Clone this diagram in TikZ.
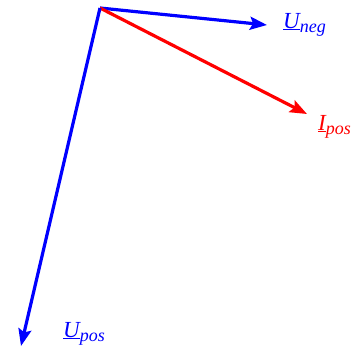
\documentclass[tikz,border=0pt]{standalone}
\usepackage{fontspec}
\setmainfont{Liberation Serif}
\usetikzlibrary{arrows.meta}
\begin{document}
\begin{tikzpicture}[x=1pt,y=-1pt,
  vec/.style={line width=3.2pt,-{Stealth[length=17pt,width=13pt,inset=3pt]}},
  lbl/.style={font=\fontsize{23}{26}\selectfont\itshape,inner sep=0pt,anchor=base west}]
\useasboundingbox (0,0) rectangle (358,349);
\coordinate (o) at (100,8);
\coordinate (uneg) at (267,25);
\coordinate (ipos) at (307,114);
\coordinate (upos) at (21,346);
\draw[vec,blue] (o) -- (uneg);
\draw[vec,red] (o) -- (ipos);
\draw[vec,blue] (o) -- (upos);
\newcommand\sbs[1]{\raisebox{-4pt}{\fontsize{18}{20}\selectfont #1}}
\node[lbl,text=blue] (lneg) at (283,28) {\underline{U}\sbs{neg}};
\node[lbl,text=red] (lipos) at (318,130) {\underline{I}\sbs{pos}};
\node[lbl,text=blue] (lupos) at (63,337) {\underline{U}\sbs{pos}};
\end{tikzpicture}
\end{document}
